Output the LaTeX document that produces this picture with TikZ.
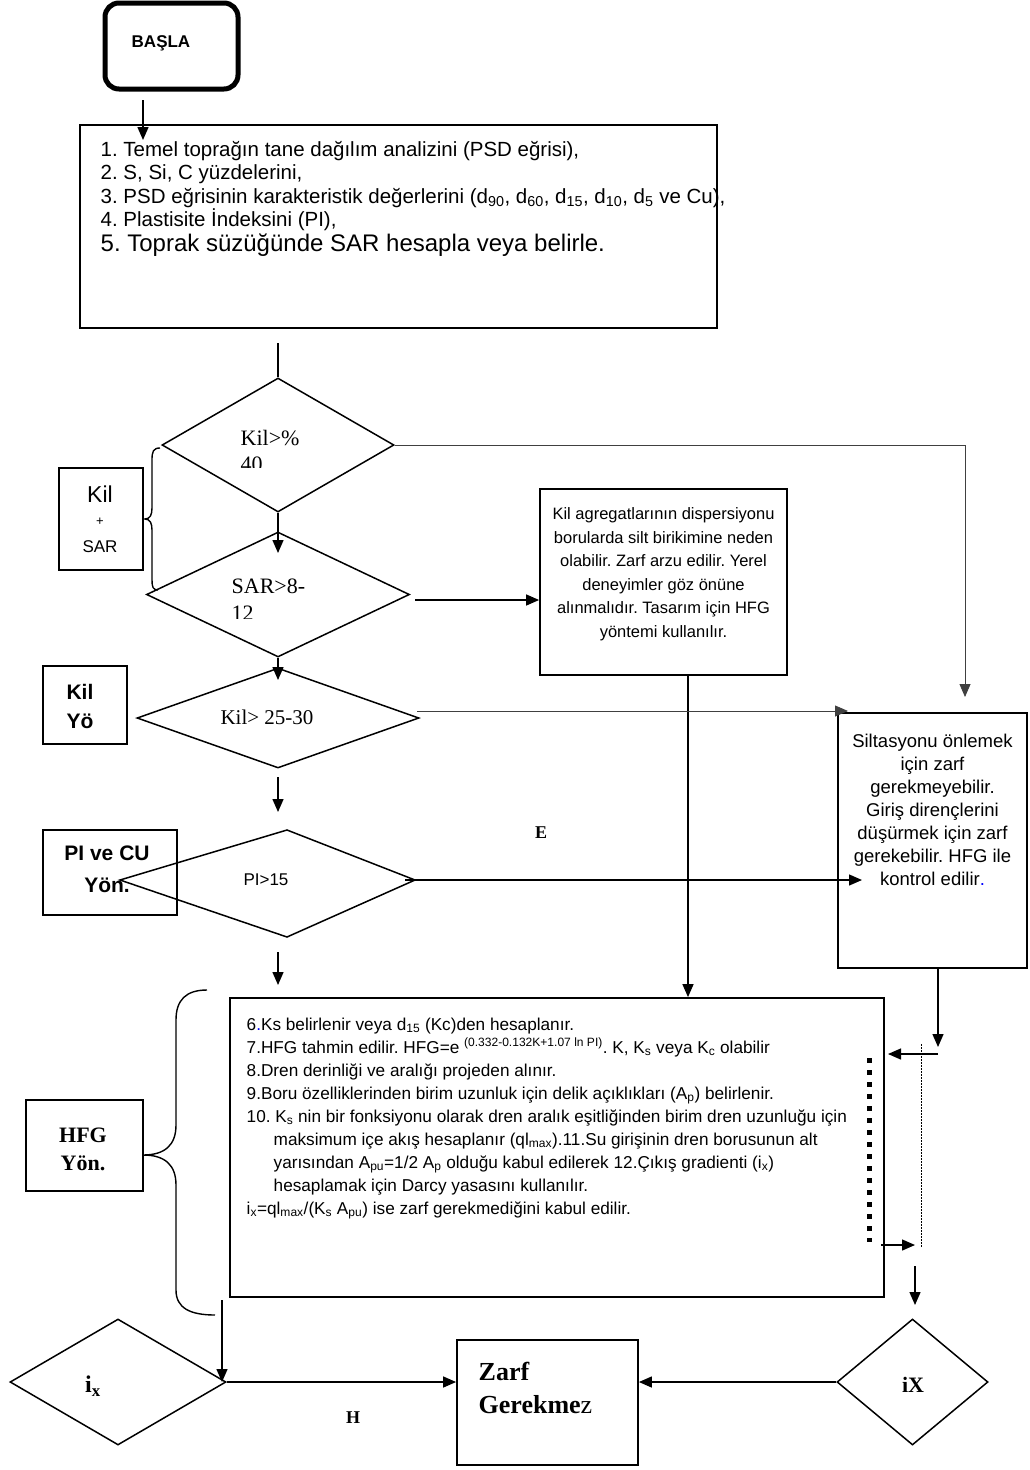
\documentclass[tikz,border=0pt]{standalone}
\usepackage{fontspec}
\setmainfont{Liberation Serif}
\newfontfamily\arial{Liberation Sans}
\newfontfamily\tnr{Liberation Serif}
\usetikzlibrary{arrows.meta,shapes.geometric}
\newcommand{\fsz}[2]{\fontsize{#1}{#2}\selectfont}
\frenchspacing
\begin{document}
\frenchspacing
\begin{tikzpicture}[x=1pt,y=-1pt,
  line width=1.4pt,
  arr/.style={-{Triangle[length=13pt,width=11pt]}, line width=1.4pt},
  thinarr/.style={-{Triangle[length=13pt,width=11pt]}, line width=0.8pt, draw=black!75},
  box/.style={draw, line width=1.8pt, inner sep=0pt},
  dia/.style={draw, diamond, inner sep=0pt, line width=1.5pt},
  txt/.style={inner sep=0pt, anchor=base west},
  lbl/.style={inner sep=0pt},
]
\fill[white] (0,0) rectangle (1029,1470);
\useasboundingbox (0,0) rectangle (1029,1470);

% start
\node[box, line width=5pt, rounded corners=14pt, minimum width=133pt, minimum height=86pt] (start) at (171.5,46) {};
\node[lbl, font=\arial\bfseries\fsz{17}{20}] (startt) at (161,43) {BAŞLA};

% top box
\node[box, minimum width=637pt, minimum height=203pt] (b1) at (398.5,226.5) {};
\node[txt, font=\arial\fsz{20.5}{24}] (t1) at (100,156) {1. Temel toprağın tane dağılım analizini (PSD eğrisi),};
\node[txt, font=\arial\fsz{20.5}{24}] (t2) at (100,179) {2. S, Si, C yüzdelerini,};
\node[txt, font=\arial\fsz{20.5}{24}] (t3) at (100,203) {3. PSD eğrisinin karakteristik değerlerini (d\textsubscript{90}, d\textsubscript{60}, d\textsubscript{15}, d\textsubscript{10}, d\textsubscript{5} ve Cu),};
\node[txt, font=\arial\fsz{20.5}{24}] (t4) at (100,226) {4. Plastisite İndeksini (PI),};
\node[txt, font=\arial\fsz{24}{28}] (t5) at (100,251) {5. Toprak süzüğünde SAR hesapla veya belirle.};

% diamonds
\node[dia, minimum width=232pt, minimum height=134pt] (d1) at (278,445) {};
\node[dia, minimum width=263pt, minimum height=125pt] (d2) at (278,594.5) {};
\node[dia, minimum width=282pt, minimum height=100pt] (d3) at (278,718) {};
\draw[line width=1.5pt] (120,880) coordinate (d4w) -- (287,830) coordinate (d4n) -- (415,880) coordinate (d4e) -- (287,937) coordinate (d4s) -- cycle;

\begin{scope}
\clip (200,415) rectangle (340,467);
\node[txt, font=\tnr\fsz{22}{24}] (d1a) at (240,445) {Kil>\%};
\node[txt, font=\tnr\fsz{22}{24}] (d1b) at (240,471) {40};
\end{scope}
\begin{scope}
\clip (200,565) rectangle (340,618);
\node[txt, font=\tnr\fsz{22}{24}] (d2a) at (231,593) {SAR>8-};
\node[txt, font=\tnr\fsz{22}{24}] (d2b) at (231,620) {12};
\end{scope}
\node[lbl, font=\tnr\fsz{21}{24}] (d3t) at (267,717) {Kil> 25-30};
\node[lbl, font=\arial\fsz{17}{20}] (d4t) at (266,880) {PI>15};

% side boxes
\node[box, minimum width=84pt, minimum height=102pt] (ks) at (101,519) {};
\node[lbl, font=\arial\fsz{23}{26}] (ks1) at (100,494) {Kil};
\node[lbl, font=\arial\fsz{13}{14}] (ks2) at (100,522) {+};
\node[lbl, font=\arial\fsz{17}{20}] (ks3) at (100,547) {SAR};

\node[box, minimum width=84pt, minimum height=78pt] (ky) at (85,705) {};
\node[lbl, font=\arial\bfseries\fsz{21}{24}] (ky1) at (80,692) {Kil};
\node[lbl, font=\arial\bfseries\fsz{21}{24}] (ky2) at (80,721) {Yö};

\node[box, minimum width=134pt, minimum height=85pt] (pc) at (110,872.5) {};
\node[lbl, font=\arial\bfseries\fsz{21}{24}] (pc1) at (107,853) {PI ve CU};
\node[lbl, font=\arial\bfseries\fsz{21}{24}] (pc2) at (107,885) {Yön.};

\node[box, minimum width=117pt, minimum height=91pt] (hy) at (84.5,1145.5) {};
\node[lbl, font=\tnr\bfseries\fsz{22}{24}] (hy1) at (83,1135) {HFG};
\node[lbl, font=\tnr\bfseries\fsz{22}{24}] (hy2) at (83,1163) {Yön.};

% middle box
\node[box, minimum width=247pt, minimum height=186pt] (mid) at (663.5,582) {};
\node[lbl, align=center, font=\arial\fsz{16.5}{23.5}] (midt) at (663.5,574) {Kil agregatlarının dispersiyonu\\borularda silt birikimine neden\\olabilir. Zarf arzu edilir. Yerel\\deneyimler göz önüne\\alınmalıdır. Tasarım için HFG\\yöntemi kullanılır.};

% right box
\node[box, minimum width=189pt, minimum height=255pt] (rb) at (932.5,840.5) {};
\node[lbl, align=center, font=\arial\fsz{18.5}{23}] (rbt) at (932.5,810) {Siltasyonu önlemek\\için zarf\\gerekmeyebilir.\\Giriş dirençlerini\\düşürmek için zarf\\gerekebilir. HFG ile\\kontrol edilir{\color{blue}.}};

% HFG box
\node[box, minimum width=654pt, minimum height=299pt] (hfg) at (557,1147.5) {};
\begin{scope}[every node/.style={txt, font=\arial\fsz{17.2}{22}}]
\node (h1) at (246,1030) {6{\color{blue}.}Ks belirlenir veya d\textsubscript{15} (Kc)den hesaplanır.};
\node (h2) at (246,1053) {7.HFG tahmin edilir. HFG=e \textsuperscript{(0.332-0.132K+1.07 ln PI)}. K, K\textsubscript{s} veya K\textsubscript{c} olabilir};
\node (h3) at (246,1076) {8.Dren derinliği ve aralığı projeden alınır.};
\node (h4) at (246,1099) {9.Boru özelliklerinden birim uzunluk için delik açıklıkları (A\textsubscript{p}) belirlenir.};
\node (h5) at (246,1122) {10. K\textsubscript{s} nin bir fonksiyonu olarak dren aralık eşitliğinden birim dren uzunluğu için};
\node (h6) at (273,1145) {maksimum içe akış hesaplanır (ql\textsubscript{max}).11.Su girişinin dren borusunun alt};
\node (h7) at (273,1168) {yarısından A\textsubscript{pu}=1/2 A\textsubscript{p} olduğu kabul edilerek 12.Çıkış gradienti (i\textsubscript{x})};
\node (h8) at (273,1191) {hesaplamak için Darcy yasasını kullanılır.};
\node (h9) at (246,1214) {i\textsubscript{x}=ql\textsubscript{max}/(K\textsubscript{s} A\textsubscript{pu}) ise zarf gerekmediğini kabul edilir.};
\end{scope}

% dotted columns
\draw[line width=5pt, dash pattern=on 5pt off 7pt] (869,1058) coordinate (sq1) -- (869,1242) coordinate (sq2);
\draw[line width=1pt, dash pattern=on 1.5pt off 1.5pt] (921,1044) coordinate (dt1) -- (921,1248) coordinate (dt2);

% bottom
\node[dia, minimum width=216pt, minimum height=126pt] (dL) at (118,1382) {};
\node[dia, minimum width=151pt, minimum height=126pt] (dR) at (912.5,1382) {};
\node[box, minimum width=181pt, minimum height=125pt] (zarf) at (547.5,1402.5) {};
\node[txt, font=\tnr\bfseries\fsz{26}{28}] (z1) at (478,1380) {Zarf};
\node[txt, font=\tnr\fsz{26}{28}] (z2) at (478,1413) {\textbf{Gerekme}z};
\node[lbl, font=\tnr\bfseries\fsz{24}{26}] (ixl) at (93,1386) {i\textsubscript{x}};
\node[lbl, font=\tnr\bfseries\fsz{22}{24}] (ixr) at (913,1385) {iX};
\node[lbl, font=\tnr\bfseries\fsz{18}{20}] (E) at (541,833) {E};
\node[lbl, font=\tnr\bfseries\fsz{18}{20}] (H) at (353,1418) {H};

% braces
\draw[line width=1.4pt] (160,448) .. controls (153,448) and (152,452) .. (152,460) -- (152,508) .. controls (152,515) and (150,519) .. (145,519) .. controls (150,519) and (152,523) .. (152,530) -- (152,580) .. controls (152,587) and (153,590) .. (158,590);
\draw[line width=1.4pt] (207,990) .. controls (186,990) and (176,1000) .. (176,1020) -- (176,1125) .. controls (176,1145) and (165,1155) .. (143,1155) .. controls (165,1155) and (176,1165) .. (176,1185) -- (176,1290) .. controls (176,1308) and (190,1315) .. (215,1315);

% connectors
\coordinate (a0) at (143,100); \coordinate (a0e) at (143,140);
\draw[arr] (a0) -- (a0e);
\coordinate (c1) at (278,343);
\draw (c1) -- (d1.north);
\coordinate (k2) at (965,697);
\draw[thinarr] (d1.east) -| (k2);
\coordinate (c3) at (278,553);
\draw[arr] (d1.south) -- (c3);
\coordinate (c4) at (415,600);
\draw[arr] (c4) -- (c4 -| mid.west);
\coordinate (c5) at (688,675);
\draw[arr] (c5) -- (c5 |- hfg.north);
\coordinate (c6) at (278,680);
\draw[arr] (d2.south) -- (c6);
\coordinate (c7) at (417,711); \coordinate (c7e) at (848,711);
\draw[thinarr] (c7) -- (c7e);
\coordinate (c8) at (278,777); \coordinate (c8e) at (278,812);
\draw[arr] (c8) -- (c8e);
\coordinate (c9) at (405,880); \coordinate (c9e) at (862,880);
\draw[arr] (c9) -- (c9e);
\coordinate (c10) at (278,952); \coordinate (c10e) at (278,985);
\draw[arr] (c10) -- (c10e);
\coordinate (c11) at (938,968); \coordinate (c11e) at (938,1047);
\draw[arr] (c11) -- (c11e);
\coordinate (c12) at (938,1054); \coordinate (c12e) at (888,1054);
\draw[arr] (c12) -- (c12e);
\coordinate (c13) at (881,1245); \coordinate (c13e) at (915,1245);
\draw[arr] (c13) -- (c13e);
\coordinate (c14) at (915,1266); \coordinate (c14e) at (915,1305);
\draw[arr] (c14) -- (c14e);
\coordinate (c15) at (222,1300);
\draw[arr] (c15) -- (c15 |- dL.east);
\draw[arr] (dL.east) -- (dL.east -| zarf.west);
\draw[arr] (dR.west) -- (dR.west -| zarf.east);
\end{tikzpicture}
\end{document}
